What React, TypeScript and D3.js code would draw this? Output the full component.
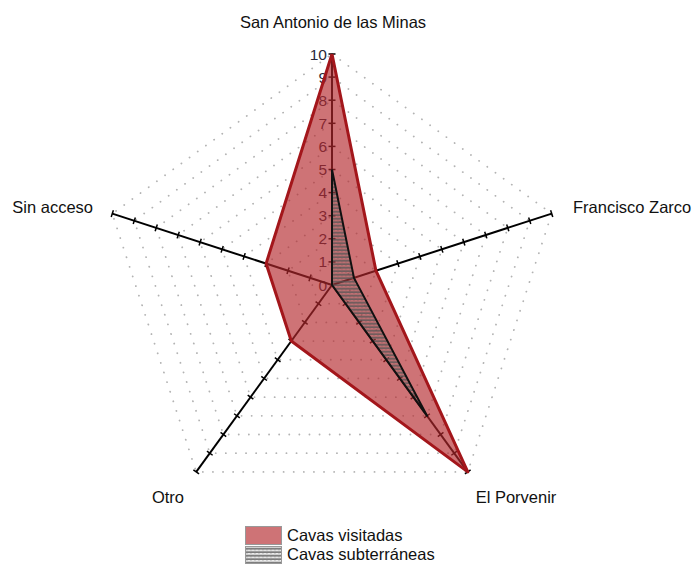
import React, { useEffect, useRef } from "react";
import * as d3 from "d3";

// axes of the radar, clockwise from the top
const categories = ["San Antonio de las Minas", "Francisco Zarco", "El Porvenir", "Otro", "Sin acceso"];
const visitadas = [10, 2, 10, 3, 3];
const subterraneas = [5, 1, 7, 0, 0];
const tickValues = [0, 1, 2, 3, 4, 5, 6, 7, 8, 9, 10];
const seriesNames = ["Cavas visitadas", "Cavas subterráneas"];

export default function App() {
  const ref = useRef<SVGSVGElement>(null);

  useEffect(() => {
    const svg = d3.select(ref.current);
    svg.selectAll("*").remove();

    const cx = 332, cy = 285, R = 231;
    const font = "'Liberation Sans', Arial, sans-serif";
    const r = d3.scaleLinear().domain([0, 10]).range([0, R]);
    const angle = d3.scaleLinear().domain([0, categories.length]).range([0, 2 * Math.PI]);
    const pt = (i: number, v: number): [number, number] => [
      cx + r(v) * Math.sin(angle(i)),
      cy - r(v) * Math.cos(angle(i)),
    ];

    const defs = svg.append("defs");
    const pat = defs.append("pattern")
      .attr("id", "wave")
      .attr("patternUnits", "userSpaceOnUse")
      .attr("width", 4).attr("height", 3.5);
    pat.append("path")
      .attr("d", "M0,2.6 L1,0.9 L2,2.6 L3,0.9 L4,2.6")
      .attr("fill", "none")
      .attr("stroke", "#555")
      .attr("stroke-width", 0.9);

    // dotted grid pentagons
    const g = svg.append("g");
    tickValues.slice(1).forEach(v => {
      const pts = categories.map((_, i) => pt(i, v));
      g.append("path")
        .attr("d", d3.line()([...pts, pts[0]]))
        .attr("fill", "none")
        .attr("stroke", "#b3b3b3")
        .attr("stroke-width", 1.8)
        .attr("stroke-linecap", "round")
        .attr("stroke-dasharray", "0.1 10");
    });

    // radial tick labels on the top axis (under the fill)
    g.selectAll(".tl").data(tickValues).join("text")
      .attr("x", cx - 5)
      .attr("y", d => cy - r(d) + 5.5)
      .attr("text-anchor", "end")
      .style("font-family", font)
      .style("font-size", "15.5px")
      .attr("fill", "#2a2a3a")
      .text(d => d);

    // axes with ticks
    categories.forEach((_, i) => {
      const a = angle(i);
      g.append("line")
        .attr("x1", cx).attr("y1", cy)
        .attr("x2", pt(i, 10)[0]).attr("y2", pt(i, 10)[1])
        .attr("stroke", "#000").attr("stroke-width", 2);
      tickValues.slice(1).forEach(v => {
        const [x, y] = pt(i, v);
        const dx = Math.cos(a) * 3.5, dy = Math.sin(a) * 3.5;
        g.append("line")
          .attr("x1", x - dx).attr("y1", y - dy)
          .attr("x2", x + dx).attr("y2", y + dy)
          .attr("stroke", "#000").attr("stroke-width", 1.5);
      });
    });

    // series
    const poly = (vals: number[]) => {
      const pts = vals.map((v, i) => pt(i, v));
      return d3.line()([...pts, pts[0]]);
    };
    svg.append("path")
      .attr("d", poly(visitadas))
      .attr("fill", "rgb(180,40,45)")
      .attr("fill-opacity", 0.65)
      .attr("stroke", "#a3161b")
      .attr("stroke-width", 3)
      .attr("stroke-linejoin", "round");
    svg.append("path")
      .attr("d", poly(subterraneas))
      .attr("fill", "url(#wave)")
      .attr("stroke", "#111")
      .attr("stroke-width", 2)
      .attr("stroke-linejoin", "round");

    // category labels
    const labelPos: [number, number, string][] = [
      [333, 28, "middle"],
      [573, 213, "start"],
      [516, 503, "middle"],
      [168, 503, "middle"],
      [93, 213, "end"],
    ];
    categories.forEach((c, i) => {
      svg.append("text")
        .attr("x", labelPos[i][0]).attr("y", labelPos[i][1])
        .attr("text-anchor", labelPos[i][2])
        .style("font-family", font)
        .style("font-size", "16.5px")
        .attr("fill", "#111")
        .text(c);
    });

    // legend
    const leg = svg.append("g").attr("transform", "translate(245,526)");
    leg.append("rect").attr("x", 0.5).attr("y", 0.5).attr("width", 36).attr("height", 18)
      .attr("fill", "rgb(180,40,45)").attr("fill-opacity", 0.65)
      .attr("stroke", "#999").attr("stroke-width", 1);
    leg.append("rect").attr("x", 0.5).attr("y", 20.5).attr("width", 36).attr("height", 17)
      .attr("fill", "url(#wave)").attr("stroke", "#999").attr("stroke-width", 1);
    seriesNames.forEach((s, i) => {
      leg.append("text")
        .attr("x", 42).attr("y", 15 + i * 19)
        .style("font-family", font)
        .style("font-size", "16.5px")
        .attr("fill", "#111")
        .text(s);
    });
  }, []);

  return (
    <svg ref={ref} width={694} height={566}
      style={{ position: "absolute", left: 0, top: 0, display: "block" }}></svg>
  );
}
